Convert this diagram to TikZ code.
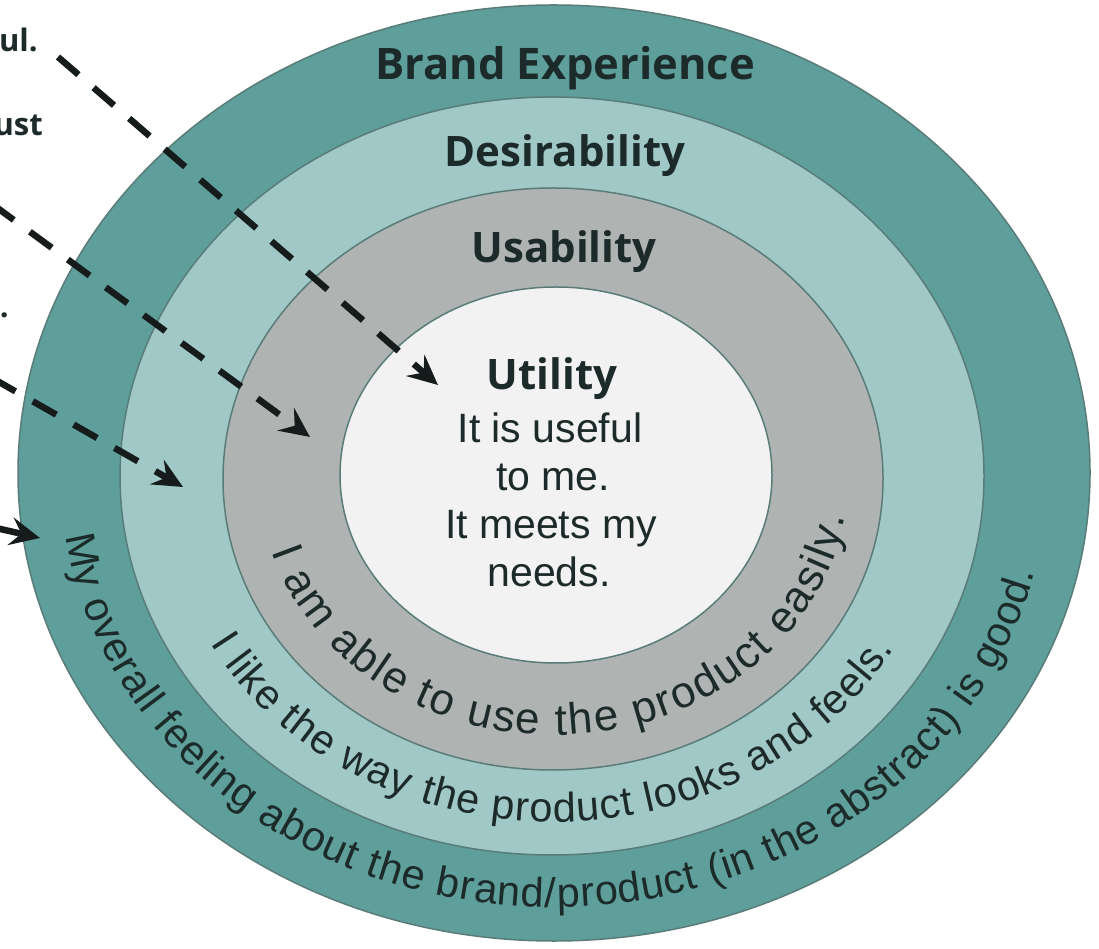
\documentclass[tikz,border=0pt]{standalone}
\usepackage{fontspec}
\setmainfont{Liberation Sans}
\newfontfamily\titlefont{Open Sans}
\usetikzlibrary{arrows.meta,decorations.text}
\definecolor{brandc}{HTML}{5E9F9B}
\definecolor{desirc}{HTML}{9FC8C6}
\definecolor{usabc}{HTML}{AFB4B3}
\definecolor{utilc}{HTML}{F2F2F2}
\definecolor{edgec}{HTML}{5A7C79}
\definecolor{textc}{HTML}{1C2A2A}
\definecolor{arrowc}{HTML}{161C1C}
\begin{document}
\begin{tikzpicture}[x=1pt,y=1pt,
  ring/.style={draw=edgec, line width=1.5pt},
  title/.style={font=\titlefont\bfseries\fontsize{42}{48}\selectfont, text=textc, anchor=base, inner sep=0pt},
  body/.style={font=\fontsize{41}{48}\selectfont, text=textc, anchor=base, inner sep=0pt},
  side/.style={font=\titlefont\bfseries\fontsize{31}{36}\selectfont, text=textc, anchor=base east, inner sep=0pt},
  dasharrow/.style={draw=arrowc, line width=6.5pt, dash pattern=on 27pt off 20pt,
    -{Stealth[length=30pt,width=28pt,inset=11pt]}},
  curvetext/.style 2 args={decorate, decoration={text along path, text align=fit to path,
    text={|\fontsize{#1}{52}\selectfont\color{textc}|#2}}},
]
\useasboundingbox (0,0) rectangle (1099,948);
\clip (0,0) rectangle (1099,948);
\fill[white] (0,0) rectangle (1099,948);

% rings
\filldraw[ring, fill=brandc] (554,475) ellipse [x radius=536, y radius=468];
\filldraw[ring, fill=desirc] (552,472) ellipse [x radius=432, y radius=379];
\filldraw[ring, fill=usabc] (553,469) ellipse [x radius=330, y radius=291];
\filldraw[ring, fill=utilc] (556,473) ellipse [x radius=216, y radius=188];

% titles
\node[title, font=\titlefont\bfseries\fontsize{43.5}{48}\selectfont] (brand) at (565,868) {Brand Experience};
\node[title] (desir) at (565,781) {Desirability};
\node[title] (usab) at (564,685) {Usability};
\node[title] (util) at (552,558) {Utility};

% utility body
\node[body] (u1) at (550,505) {It is useful};
\node[body] (u2) at (553,457) {to me.};
\node[body] (u3) at (551,409) {It meets my};
\node[body] (u4) at (549,361) {needs.};

% curved texts
\path[curvetext={44}{I am able to use the product easily.}]
  (554,472) ++(197:295 and 259) arc[start angle=197, end angle=351, x radius=295, y radius=259];
\path[curvetext={41.5}{I like the way the product looks and feels.}]
  (554,472) ++(209:393 and 346) arc[start angle=209, end angle=330, x radius=393, y radius=346];
\path[curvetext={41.5}{My overall feeling about the brand/product (in the abstract) is good.}]
  (554,472) ++(188:493 and 431) arc[start angle=188, end angle=347, x radius=493, y radius=431];

% left side (cut-off) texts
\node[side] (s1) at (38,896) {ul.};
\node[side] (s2) at (43,812) {ust};
\node[side] (s3) at (9,630) {.};

% arrows
\coordinate (a1s) at (58,891);
\coordinate (a1e) at (438,563);
\coordinate (a2s) at (-8,744);
\coordinate (a2e) at (310,511);
\coordinate (a3s) at (-8,570);
\coordinate (a3e) at (183,461);
\coordinate (a4s) at (-4,420);
\coordinate (a4e) at (40,410);
\draw[dasharrow] (a1s) -- (a1e);
\draw[dasharrow] (a2s) -- (a2e);
\draw[dasharrow] (a3s) -- (a3e);
\draw[dasharrow] (a4s) -- (a4e);
\end{tikzpicture}
\end{document}
